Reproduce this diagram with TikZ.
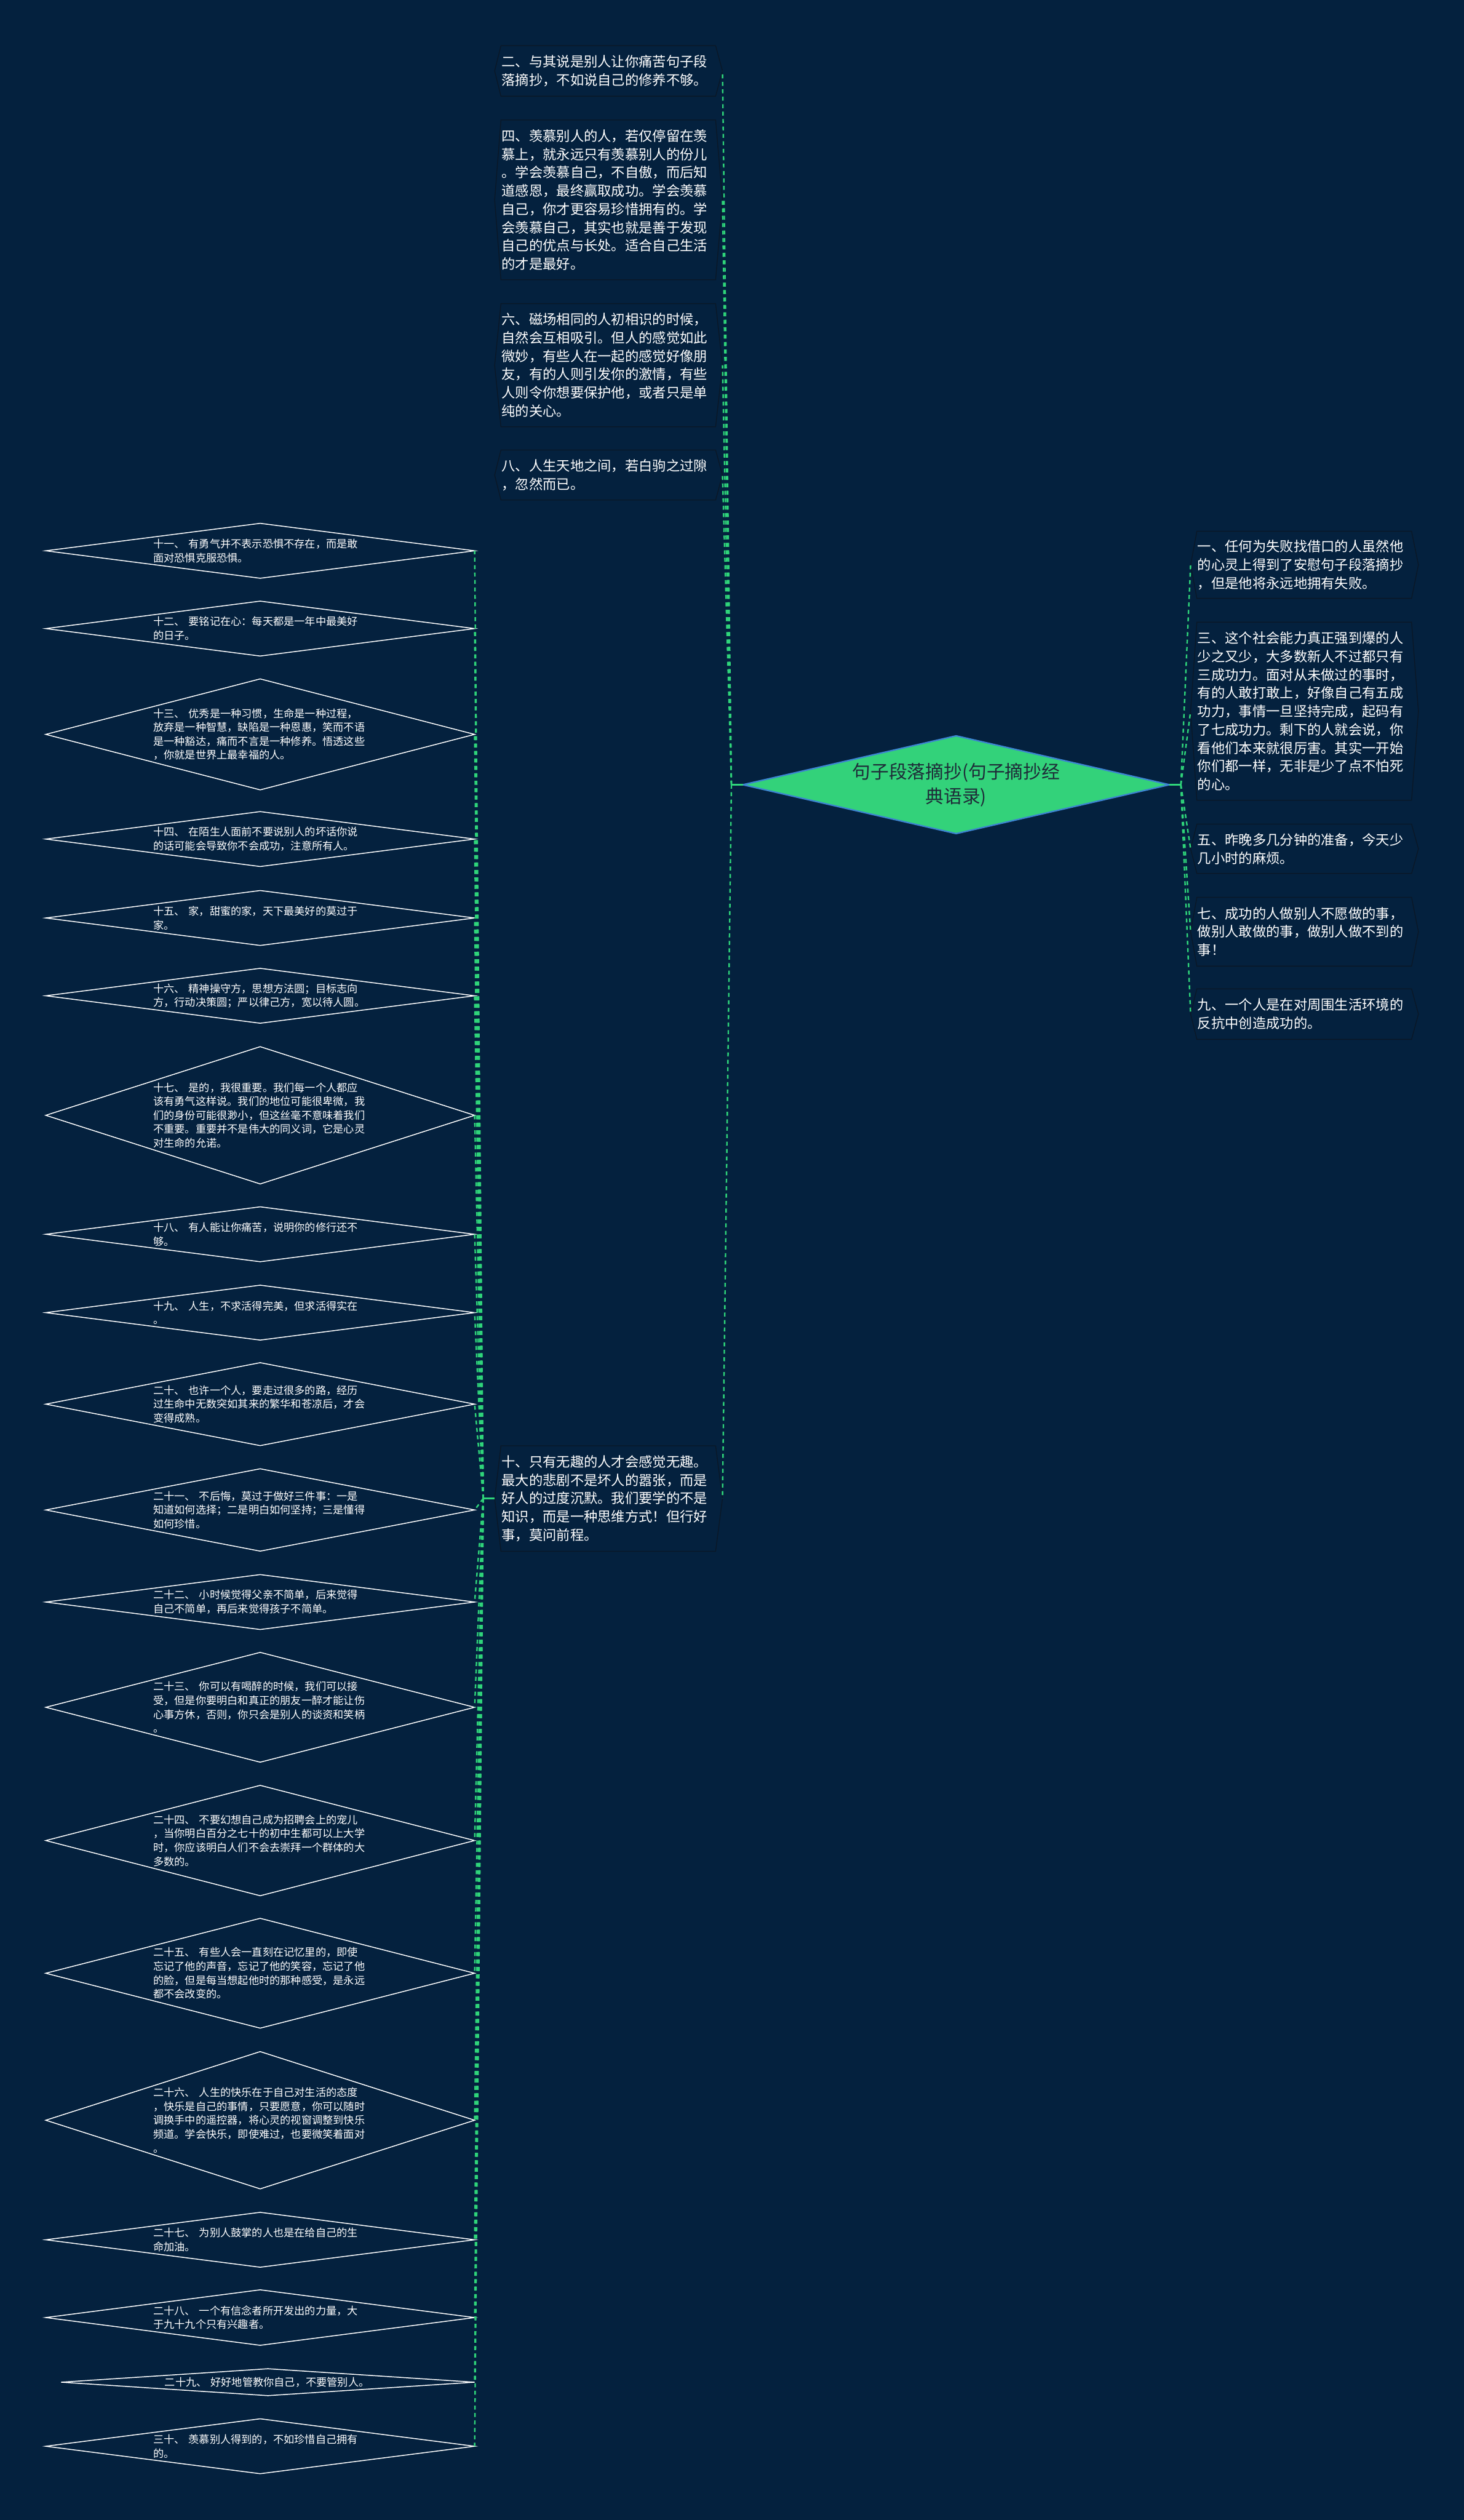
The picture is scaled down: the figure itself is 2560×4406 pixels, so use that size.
\documentclass[tikz,border=0pt]{standalone}
\usepackage{fontspec}
\setmainfont{Noto Sans CJK SC}
\usetikzlibrary{shapes.geometric,calc}
\definecolor{bg}{HTML}{04213E}
\definecolor{lnk}{HTML}{2FD47A}
\definecolor{rootfill}{HTML}{33D27A}
\definecolor{rootedge}{HTML}{3C84D0}
\definecolor{hexedge}{HTML}{0A1726}
\definecolor{roottext}{HTML}{1E2B38}
\tikzset{
  conn/.style={draw=lnk, line width=2.6pt, dash pattern=on 7pt off 6pt},
  stub/.style={draw=lnk, line width=2.6pt},
  hexbox/.style={text width=374pt, inner xsep=12pt, inner ysep=0pt, align=left, text=white, font=\fontsize{24pt}{32pt}\selectfont},
  hexline/.style={draw=hexedge, line width=1.4pt},
  ldiam/.style={diamond, draw=white, line width=1.6pt, inner sep=0pt, outer sep=0pt},
  dtext/.style={text width=375pt, inner sep=0pt, align=left, text=white, font=\fontsize{18.5pt}{24.3pt}\selectfont},
  rootd/.style={diamond, fill=rootfill, draw=rootedge, line width=2.5pt, inner sep=0pt, outer sep=0pt},
  roottxt/.style={align=center, inner sep=0pt, text=roottext, font=\fontsize{32pt}{43pt}\selectfont}
}
\newcommand\mkhex[5]{%
  \node[hexbox, minimum height=#4pt, anchor=west] (#1) at (#2,#3) {#5};
  \draw[hexline] (#1.west) -- ($(#1.north west)+(11,0)$) -- ($(#1.north east)+(-12,0)$) -- (#1.east) -- ($(#1.south east)+(-12,0)$) -- ($(#1.south west)+(11,0)$) -- cycle;
}
\newcommand\mkdiam[6]{%
  \node[ldiam, minimum width=#4pt, minimum height=#5pt] (#1) at (#2,#3) {};
  \node[dtext, anchor=west] (#1t) at ($(#1.center)+(-187,0)$) {#6};
}
\begin{document}
\begin{tikzpicture}[x=1pt,y=-1pt]
\fill[bg] (0,0) rectangle (2560,4406);
\useasboundingbox (0,0) rectangle (2560,4406);

% root
\node[rootd, minimum width=746pt, minimum height=171pt] (root) at (1672,1372) {};
\node[roottxt] (roott) at (root.center) {句子段落摘抄(句子摘抄经\\典语录)};
\coordinate (rootL) at ($(root.west)+(-20,0)$);
\coordinate (rootR) at ($(root.east)+(20,0)$);

% left boxes
\mkhex{b2}{865}{124}{88}{二、与其说是别人让你痛苦句子段\\落摘抄，不如说自己的修养不够。}
\mkhex{b4}{865}{349.5}{279}{四、羡慕别人的人，若仅停留在羡\\慕上，就永远只有羡慕别人的份儿\\。学会羡慕自己，不自傲，而后知\\道感恩，最终赢取成功。学会羡慕\\自己，你才更容易珍惜拥有的。学\\会羡慕自己，其实也就是善于发现\\自己的优点与长处。适合自己生活\\的才是最好。}
\mkhex{b6}{865}{638.5}{215}{六、磁场相同的人初相识的时候，\\自然会互相吸引。但人的感觉如此\\微妙，有些人在一起的感觉好像朋\\友，有的人则引发你的激情，有些\\人则令你想要保护他，或者只是单\\纯的关心。}
\mkhex{b8}{865}{830.5}{87}{八、人生天地之间，若白驹之过隙\\，忽然而已。}
\mkhex{b10}{865}{2620}{184}{十、只有无趣的人才会感觉无趣。\\最大的悲剧不是坏人的嚣张，而是\\好人的过度沉默。我们要学的不是\\知识，而是一种思维方式！但行好\\事，莫问前程。}

% right boxes
\mkhex{b1}{2082}{987.5}{117}{一、任何为失败找借口的人虽然他\\的心灵上得到了安慰句子段落摘抄\\，但是他将永远地拥有失败。}
\mkhex{b3}{2082}{1243.5}{311}{三、这个社会能力真正强到爆的人\\少之又少，大多数新人不过都只有\\三成功力。面对从未做过的事时，\\有的人敢打敢上，好像自己有五成\\功力，事情一旦坚持完成，起码有\\了七成功力。剩下的人就会说，你\\看他们本来就很厉害。其实一开始\\你们都一样，无非是少了点不怕死\\的心。}
\mkhex{b5}{2082}{1484}{86}{五、昨晚多几分钟的准备，今天少\\几小时的麻烦。}
\mkhex{b7}{2082}{1629}{120}{七、成功的人做别人不愿做的事，\\做别人敢做的事，做别人做不到的\\事！}
\mkhex{b9}{2082}{1773}{88}{九、一个人是在对周围生活环境的\\反抗中创造成功的。}

\coordinate (tenS) at ($(b10.west)+(-20,0)$);

% diamonds
\mkdiam{d11}{455}{963}{750}{96}{十一、 有勇气并不表示恐惧不存在，而是敢\\面对恐惧克服恐惧。}
\mkdiam{d12}{455}{1099}{750}{96}{十二、 要铭记在心：每天都是一年中最美好\\的日子。}
\mkdiam{d13}{455}{1284}{750}{194}{十三、 优秀是一种习惯，生命是一种过程，\\放弃是一种智慧，缺陷是一种恩惠，笑而不语\\是一种豁达，痛而不言是一种修养。悟透这些\\，你就是世界上最幸福的人。}
\mkdiam{d14}{455}{1467}{750}{96}{十四、 在陌生人面前不要说别人的坏话你说\\的话可能会导致你不会成功，注意所有人。}
\mkdiam{d15}{455}{1605}{750}{96}{十五、 家，甜蜜的家，天下最美好的莫过于\\家。}
\mkdiam{d16}{455}{1741}{750}{96}{十六、 精神操守方，思想方法圆；目标志向\\方，行动决策圆；严以律己方，宽以待人圆。}
\mkdiam{d17}{455}{1950}{750}{240}{十七、 是的，我很重要。我们每一个人都应\\该有勇气这样说。我们的地位可能很卑微，我\\们的身份可能很渺小，但这丝毫不意味着我们\\不重要。重要并不是伟大的同义词，它是心灵\\对生命的允诺。}
\mkdiam{d18}{455}{2158}{750}{96}{十八、 有人能让你痛苦，说明你的修行还不\\够。}
\mkdiam{d19}{455}{2295}{750}{96}{十九、 人生，不求活得完美，但求活得实在\\。}
\mkdiam{d20}{455}{2455}{750}{145}{二十、 也许一个人，要走过很多的路，经历\\过生命中无数突如其来的繁华和苍凉后，才会\\变得成熟。}
\mkdiam{d21}{455}{2640}{750}{144}{二十一、 不后悔，莫过于做好三件事：一是\\知道如何选择；二是明白如何坚持；三是懂得\\如何珍惜。}
\mkdiam{d22}{455}{2801}{750}{96}{二十二、 小时候觉得父亲不简单，后来觉得\\自己不简单，再后来觉得孩子不简单。}
\mkdiam{d23}{455}{2985}{750}{192}{二十三、 你可以有喝醉的时候，我们可以接\\受，但是你要明白和真正的朋友一醉才能让伤\\心事方休，否则，你只会是别人的谈资和笑柄\\。}
\mkdiam{d24}{455}{3218}{750}{193}{二十四、 不要幻想自己成为招聘会上的宠儿\\，当你明白百分之七十的初中生都可以上大学\\时，你应该明白人们不会去崇拜一个群体的大\\多数的。}
\mkdiam{d25}{455}{3450}{750}{192}{二十五、 有些人会一直刻在记忆里的，即使\\忘记了他的声音，忘记了他的笑容，忘记了他\\的脸，但是每当想起他时的那种感受，是永远\\都不会改变的。}
\mkdiam{d26}{455}{3707}{750}{240}{二十六、 人生的快乐在于自己对生活的态度\\，快乐是自己的事情，只要愿意，你可以随时\\调换手中的遥控器，将心灵的视窗调整到快乐\\频道。学会快乐，即使难过，也要微笑着面对\\。}
\mkdiam{d27}{455}{3916}{750}{96}{二十七、 为别人鼓掌的人也是在给自己的生\\命加油。}
\mkdiam{d28}{455}{4052}{750}{97}{二十八、 一个有信念者所开发出的力量，大\\于九十九个只有兴趣者。}
\node[ldiam, minimum width=723pt, minimum height=47pt] (d29) at (468.5,4165) {};
\node[dtext, anchor=west] (d29t) at (288,4165) {二十九、 好好地管教你自己，不要管别人。};
\mkdiam{d30}{455}{4277}{750}{96}{三十、 羡慕别人得到的，不如珍惜自己拥有\\的。}

% connectors
\draw[stub] (root.west) -- (rootL);
\draw[stub] (root.east) -- (rootR);
\draw[stub] (b10.west) -- (tenS);
\foreach \n in {b2,b4,b6,b8,b10} \draw[conn] (rootL) -- (\n.east);
\foreach \n in {b1,b3,b5,b7,b9} \draw[conn] (rootR) -- (\n.west);
\foreach \n in {d11,d12,d13,d14,d15,d16,d17,d18,d19,d20,d21,d22,d23,d24,d25,d26,d27,d28,d29,d30} \draw[conn] (tenS) -- (\n.east);
\end{tikzpicture}
\end{document}
